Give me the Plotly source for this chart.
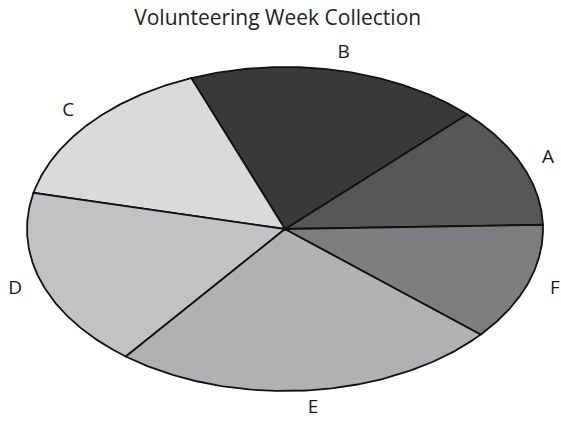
import numpy as np
import plotly.graph_objects as go

# Collection shares per group
labels = ["A", "B", "C", "D", "E", "F"]
values = [12.1, 18.4, 15.5, 18.0, 24.3, 11.7]
colors = ["#575757", "#3a3a3a", "#dadada", "#c2c2c4", "#b1b1b3", "#7e7e80"]
title_text = "Volunteering Week Collection"

start_deg = 1.5
label_r = 1.11

fig = go.Figure()

total = sum(values)
angle = start_deg
for lab, val, col in zip(labels, values, colors):
    span = 360.0 * val / total
    theta = np.radians(np.linspace(angle, angle + span, 120))
    xs = np.concatenate([[0.0], np.cos(theta), [0.0]])
    ys = np.concatenate([[0.0], np.sin(theta), [0.0]])
    fig.add_trace(go.Scatter(
        x=xs, y=ys, mode="lines", fill="toself", fillcolor=col,
        line=dict(color="#111111", width=1.8), hoverinfo="skip",
        showlegend=False,
    ))
    mid = np.radians(angle + span / 2)
    fig.add_trace(go.Scatter(
        x=[label_r * np.cos(mid)], y=[label_r * np.sin(mid)],
        mode="text", text=[lab], textposition="middle center",
        textfont=dict(family="Open Sans", size=19, color="#1a1a1a"),
        hoverinfo="skip", showlegend=False,
    ))
    angle += span

# Unit circle mapped onto a wide ellipse in the page
fig.update_xaxes(range=[-285 / 258, 276 / 258], visible=False, fixedrange=True)
fig.update_yaxes(range=[-198 / 162, 229 / 162], visible=False, fixedrange=True)

fig.update_layout(
    width=561, height=427,
    margin=dict(l=0, r=0, t=0, b=0),
    paper_bgcolor="white", plot_bgcolor="white",
    title=dict(text=title_text, x=0.495, xanchor="center", y=0.958, yanchor="middle",
               font=dict(family="Open Sans", size=21, color="#222222")),
)

fig.write_html("out.html")
